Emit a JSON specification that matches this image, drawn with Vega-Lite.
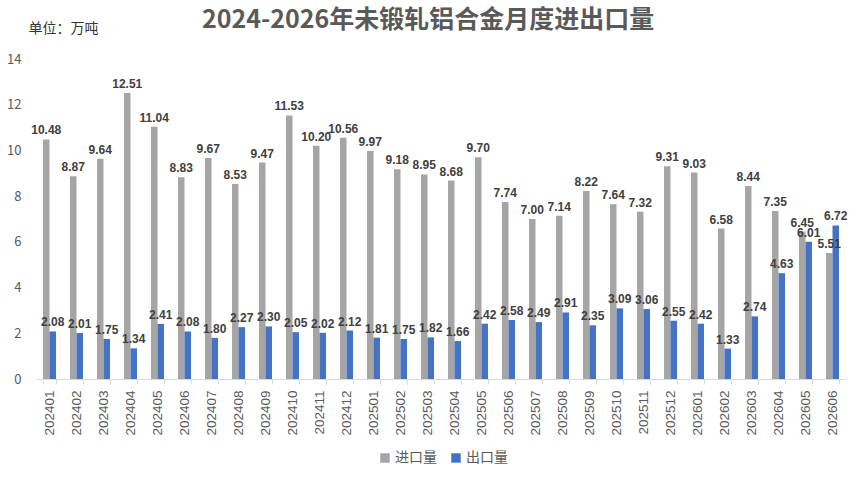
{
  "$schema": "https://vega.github.io/schema/vega-lite/v6.json",
  "autosize": "none",
  "width": 810,
  "height": 320,
  "padding": {"left": 36, "top": 59, "right": 12, "bottom": 101},
  "background": "white",
  "config": {
    "view": {"stroke": null},
    "font": "Noto Sans CJK SC"
  },
  "title": {
    "text": "2024-2026年未锻轧铝合金月度进出口量",
    "anchor": "middle",
    "dx": -13,
    "offset": 0,
    "dy": 12,
    "fontSize": 25,
    "fontWeight": "bold",
    "color": "#595959",
    "font": "Noto Sans CJK SC"
  },
  "data": {
    "values": [
      {"month": "202401", "进口量": 10.48, "出口量": 2.08},
      {"month": "202402", "进口量": 8.87, "出口量": 2.01},
      {"month": "202403", "进口量": 9.64, "出口量": 1.75},
      {"month": "202404", "进口量": 12.51, "出口量": 1.34},
      {"month": "202405", "进口量": 11.04, "出口量": 2.41},
      {"month": "202406", "进口量": 8.83, "出口量": 2.08},
      {"month": "202407", "进口量": 9.67, "出口量": 1.80},
      {"month": "202408", "进口量": 8.53, "出口量": 2.27},
      {"month": "202409", "进口量": 9.47, "出口量": 2.30},
      {"month": "202410", "进口量": 11.53, "出口量": 2.05},
      {"month": "202411", "进口量": 10.20, "出口量": 2.02},
      {"month": "202412", "进口量": 10.56, "出口量": 2.12},
      {"month": "202501", "进口量": 9.97, "出口量": 1.81},
      {"month": "202502", "进口量": 9.18, "出口量": 1.75},
      {"month": "202503", "进口量": 8.95, "出口量": 1.82},
      {"month": "202504", "进口量": 8.68, "出口量": 1.66},
      {"month": "202505", "进口量": 9.70, "出口量": 2.42},
      {"month": "202506", "进口量": 7.74, "出口量": 2.58},
      {"month": "202507", "进口量": 7.00, "出口量": 2.49},
      {"month": "202508", "进口量": 7.14, "出口量": 2.91},
      {"month": "202509", "进口量": 8.22, "出口量": 2.35},
      {"month": "202510", "进口量": 7.64, "出口量": 3.09},
      {"month": "202511", "进口量": 7.32, "出口量": 3.06},
      {"month": "202512", "进口量": 9.31, "出口量": 2.55},
      {"month": "202601", "进口量": 9.03, "出口量": 2.42},
      {"month": "202602", "进口量": 6.58, "出口量": 1.33},
      {"month": "202603", "进口量": 8.44, "出口量": 2.74},
      {"month": "202604", "进口量": 7.35, "出口量": 4.63},
      {"month": "202605", "进口量": 6.45, "出口量": 6.01},
      {"month": "202606", "进口量": 5.51, "出口量": 6.72}
    ]
  },
  "transform": [
    {"fold": ["进口量", "出口量"], "as": ["series", "value"]}
  ],
  "encoding": {
    "x": {
      "field": "month",
      "type": "nominal",
      "sort": null,
      "scale": {"paddingInner": 0.52, "paddingOuter": 0.26},
      "axis": {
        "title": null,
        "labelAngle": -90,
        "labelFontSize": 13.5,
        "labelColor": "#595959",
        "labelFont": "Liberation Sans",
        "labelPadding": 6,
        "domainColor": "#D9D9D9",
        "tickColor": "#D9D9D9",
        "tickSize": 5,
        "tickBand": "extent",
        "grid": false
      }
    },
    "xOffset": {
      "field": "series",
      "type": "nominal",
      "sort": ["进口量", "出口量"],
      "scale": {"paddingInner": 0, "paddingOuter": 0}
    },
    "y": {
      "field": "value",
      "type": "quantitative",
      "scale": {"domain": [0, 14], "nice": false},
      "axis": {
        "title": "单位：万吨",
        "titleAngle": 0,
        "titleAlign": "left",
        "titleBaseline": "middle",
        "titleX": -8,
        "titleY": -31,
        "titleFontSize": 14,
        "titleFontWeight": "normal",
        "titleColor": "#333333",
        "values": [0, 2, 4, 6, 8, 10, 12, 14],
        "labelFontSize": 13,
        "labelColor": "#595959",
        "labelPadding": 15,
        "domain": false,
        "ticks": false,
        "grid": false
      }
    }
  },
  "layer": [
    {
      "mark": {"type": "bar"},
      "encoding": {
        "color": {
          "field": "series",
          "type": "nominal",
          "sort": ["进口量", "出口量"],
          "scale": {"domain": ["进口量", "出口量"], "range": ["#A5A5A5", "#4472C4"]},
          "legend": {
            "title": null,
            "orient": "none",
            "direction": "horizontal",
            "legendX": 342,
            "legendY": 392,
            "symbolType": "square",
            "symbolSize": 90,
            "symbolStrokeWidth": 0,
            "labelFontSize": 14,
            "labelColor": "#595959",
            "columnPadding": 12,
            "labelOffset": 3
          }
        }
      }
    },
    {
      "mark": {
        "type": "text",
        "dy": -9,
        "fontSize": 12,
        "fontWeight": "bold",
        "color": "#404040",
        "font": "Liberation Sans"
      },
      "encoding": {
        "text": {"field": "value", "type": "quantitative", "format": ".2f"}
      }
    }
  ]
}
